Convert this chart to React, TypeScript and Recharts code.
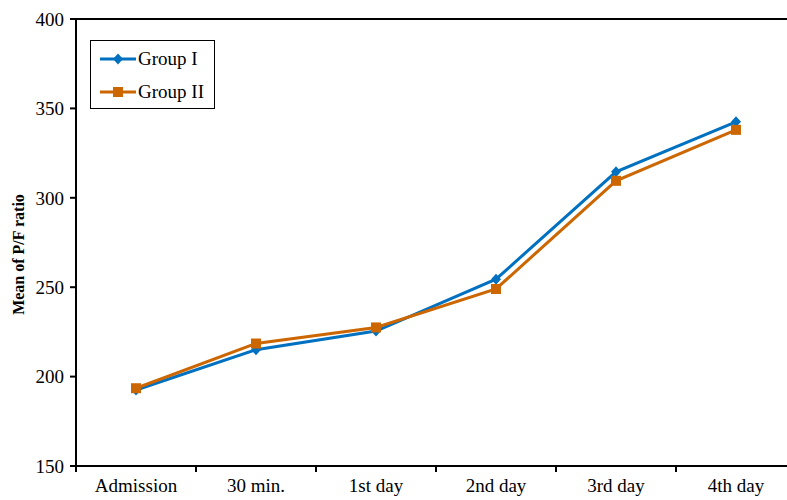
import { LineChart, Line, XAxis, YAxis, ReferenceLine, Legend } from "recharts"

const categories = ["Admission", "30 min.", "1st day", "2nd day", "3rd day", "4th day"]
const groupI = [192.5, 215, 225.5, 254.5, 314.5, 342.5]
const groupII = [193.5, 218.5, 227.5, 249, 309.5, 338]
const yTicks = [150, 200, 250, 300, 350, 400]

const data = categories.map((c, i) => ({ name: c, g1: groupI[i], g2: groupII[i] }))

const FONT = "'Liberation Serif', 'Times New Roman', serif"
const BLUE = "#0070C0"
const ORANGE = "#CC6600"

function Diamond(props: any) {
  const { cx, cy } = props
  if (cx == null || cy == null) return null
  return <path d={`M${cx},${cy - 5.5} L${cx + 5},${cy} L${cx},${cy + 5.5} L${cx - 5},${cy} Z`} fill={BLUE} />
}

function Square(props: any) {
  const { cx, cy } = props
  if (cx == null || cy == null) return null
  return <rect x={cx - 5} y={cy - 5} width={10} height={10} fill={ORANGE} />
}

function XTick(props: any) {
  const { x, y, payload } = props
  const off = payload && payload.offset ? payload.offset : 60
  return (
    <g>
      <line x1={x - off} x2={x - off} y1={y - 8} y2={y - 2} stroke="#000" strokeWidth={2} />
      <text x={x} y={y + 18} textAnchor="middle" fontFamily={FONT} fontSize={19} fill="#000">
        {payload.value}
      </text>
    </g>
  )
}

function LegendBox() {
  const items = [
    { label: "Group I", color: BLUE, shape: "diamond" },
    { label: "Group II", color: ORANGE, shape: "square" },
  ]
  return (
    <div style={{ border: "1.5px solid #000", background: "#fff", width: 125, height: 69, padding: "2px 0 0 9px", boxSizing: "border-box" }}>
      {items.map((it) => (
        <div key={it.label} style={{ display: "flex", alignItems: "center", height: 32, marginBottom: 1 }}>
          <svg width={36} height={14} style={{ marginRight: 2 }}>
            <line x1={0} x2={36} y1={7} y2={7} stroke={it.color} strokeWidth={3} />
            {it.shape === "diamond" ? (
              <path d="M18,1.5 L23,7 L18,12.5 L13,7 Z" fill={it.color} />
            ) : (
              <rect x={13} y={2} width={10} height={10} fill={it.color} />
            )}
          </svg>
          <span style={{ fontFamily: FONT, fontSize: 19, color: "#000" }}>{it.label}</span>
        </div>
      ))}
    </div>
  )
}

export default function App() {
  return (
    <div style={{ position: "absolute", left: 0, top: 0, width: 787, height: 500, overflow: "hidden", background: "#fff" }}>
      <LineChart width={812} height={500} data={data} margin={{ top: 19, right: 16, bottom: 0, left: 0 }}>
        <XAxis
          dataKey="name"
          scale="band"
          height={34}
          stroke="#000"
          strokeWidth={2}
          tickLine={false}
          tick={<XTick />}
          interval={0}
        />
        <YAxis
          domain={[150, 400]}
          ticks={yTicks}
          width={76}
          stroke="#000"
          strokeWidth={2}
          tickSize={6}
          tickMargin={6}
          tick={{ fontFamily: FONT, fontSize: 19, fill: "#000" }}
          label={({ viewBox }: any) => {
            const cy = viewBox.y + viewBox.height / 2 + 12
            return (
              <text
                x={24}
                y={cy}
                transform={`rotate(-90, 24, ${cy})`}
                textAnchor="middle"
                fontFamily={FONT}
                fontSize={16}
                fontWeight="bold"
                fill="#000"
              >
                Mean of P/F ratio
              </text>
            )
          }}
        />
        <ReferenceLine y={400} stroke="#000" strokeWidth={2} />
        <Legend
          layout="vertical"
          align="center"
          verticalAlign="middle"
          content={() => <LegendBox />}
          wrapperStyle={{ left: 90, top: 40, width: "auto" }}
        />
        <Line
          dataKey="g1"
          name="Group I"
          stroke={BLUE}
          strokeWidth={3}
          dot={<Diamond />}
          activeDot={false}
          isAnimationActive={false}
        />
        <Line
          dataKey="g2"
          name="Group II"
          stroke={ORANGE}
          strokeWidth={3}
          dot={<Square />}
          activeDot={false}
          isAnimationActive={false}
        />
      </LineChart>
    </div>
  )
}
